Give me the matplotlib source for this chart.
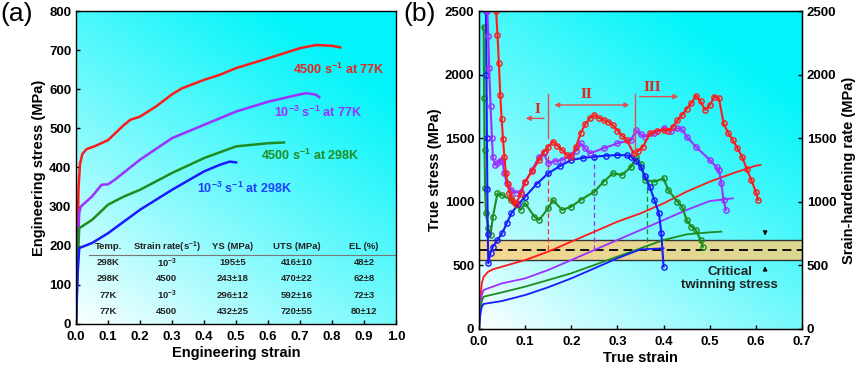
import numpy as np
import matplotlib
matplotlib.use('Agg')
import matplotlib.pyplot as plt

plt.rcParams['font.family'] = ['Liberation Sans', 'DejaVu Sans']
plt.rcParams['font.weight'] = 'bold'
plt.rcParams['mathtext.fontset'] = 'custom'
plt.rcParams['mathtext.rm'] = 'Liberation Sans:bold'
plt.rcParams['mathtext.bf'] = 'Liberation Sans:bold'
plt.rcParams['mathtext.default'] = 'bf'

# ---------- (a) engineering stress-strain ----------
eng_red_x = [0, 0.004, 0.008, 0.0125, 0.02, 0.033, 0.06, 0.1, 0.15, 0.17, 0.2, 0.25, 0.3, 0.33, 0.4, 0.45, 0.5, 0.6, 0.7, 0.75, 0.8, 0.825]
eng_red_y = [0, 200, 350, 410, 435, 447, 455, 470, 509, 522, 530, 556, 587, 602, 624, 637, 654, 679, 705, 713, 711, 707]
eng_pur_x = [0, 0.005, 0.01, 0.015, 0.05, 0.08, 0.1, 0.12, 0.2, 0.3, 0.4, 0.5, 0.6, 0.7, 0.72, 0.75, 0.76]
eng_pur_y = [0, 180, 285, 300, 326, 356, 357, 368, 420, 475, 509, 543, 568, 587, 590, 586, 580]
eng_grn_x = [0, 0.005, 0.01, 0.05, 0.1, 0.15, 0.2, 0.3, 0.4, 0.5, 0.6, 0.65]
eng_grn_y = [0, 160, 245, 266, 305, 326, 343, 386, 424, 454, 462, 464]
eng_blu_x = [0, 0.005, 0.01, 0.05, 0.1, 0.2, 0.3, 0.4, 0.45, 0.48, 0.5]
eng_blu_y = [0, 130, 194, 207, 232, 292, 343, 390, 407, 415, 413]

table_header = ['Temp.', 'Strain rate(s$^{-1}$)', 'YS (MPa)', 'UTS (MPa)', 'EL (%)']
table_rows = [
    ['298K', '10$^{-3}$', '195\u00b15', '416\u00b110', '48\u00b12'],
    ['298K', '4500', '243\u00b118', '470\u00b122', '62\u00b18'],
    ['77K', '10$^{-3}$', '296\u00b112', '592\u00b116', '72\u00b13'],
    ['77K', '4500', '432\u00b125', '720\u00b155', '80\u00b112'],
]

# ---------- (b) true stress and strain-hardening rate ----------
ts_red_x = [0, 0.003, 0.006, 0.01, 0.02, 0.03, 0.05, 0.1, 0.15, 0.2, 0.25, 0.3, 0.35, 0.4, 0.45, 0.5, 0.55, 0.6, 0.61]
ts_red_y = [0, 250, 360, 411, 451, 469, 490, 542, 608, 687, 765, 844, 909, 988, 1080, 1158, 1224, 1284, 1289]
ts_pur_x = [0, 0.003, 0.006, 0.01, 0.05, 0.1, 0.15, 0.2, 0.25, 0.3, 0.35, 0.4, 0.45, 0.5, 0.55]
ts_pur_y = [0, 180, 270, 307, 359, 398, 464, 542, 621, 700, 778, 857, 936, 1006, 1027]
ts_grn_x = [0, 0.003, 0.006, 0.01, 0.05, 0.1, 0.15, 0.2, 0.25, 0.3, 0.35, 0.4, 0.45, 0.5, 0.525]
ts_grn_y = [0, 150, 220, 254, 288, 333, 385, 438, 503, 569, 634, 700, 744, 760, 765]
ts_blu_x = [0, 0.003, 0.006, 0.01, 0.05, 0.1, 0.15, 0.2, 0.25, 0.3, 0.35, 0.4]
ts_blu_y = [0, 120, 175, 197, 220, 267, 328, 398, 477, 556, 626, 634]

hr_red_x = [0.037, 0.04, 0.043, 0.046, 0.049, 0.052, 0.055, 0.058, 0.062, 0.066, 0.07, 0.075, 0.08, 0.09, 0.1, 0.115, 0.13, 0.14, 0.15, 0.16, 0.17, 0.18, 0.19, 0.2, 0.21, 0.22, 0.23, 0.24, 0.25, 0.26, 0.27, 0.28, 0.29, 0.3, 0.31, 0.32, 0.335, 0.345, 0.355, 0.37, 0.385, 0.4, 0.41, 0.42, 0.43, 0.44, 0.45, 0.46, 0.47, 0.48, 0.49, 0.5, 0.51, 0.52, 0.53, 0.54, 0.55, 0.56, 0.57, 0.58, 0.59, 0.6, 0.605]
hr_red_y = [2500, 2310, 2090, 1840, 1650, 1490, 1350, 1230, 1140, 1070, 1030, 1000, 983, 1060, 1158, 1240, 1329, 1390, 1433, 1473, 1440, 1407, 1370, 1355, 1430, 1538, 1610, 1656, 1682, 1660, 1643, 1630, 1604, 1560, 1520, 1486, 1381, 1400, 1430, 1538, 1560, 1564, 1560, 1591, 1640, 1682, 1730, 1774, 1834, 1790, 1722, 1760, 1827, 1813, 1617, 1540, 1486, 1420, 1355, 1260, 1171, 1080, 1014]
hr_pur_x = [0.018, 0.02, 0.022, 0.025, 0.028, 0.03, 0.035, 0.04, 0.045, 0.05, 0.055, 0.06, 0.07, 0.08, 0.09, 0.1, 0.115, 0.13, 0.14, 0.15, 0.165, 0.18, 0.2, 0.21, 0.22, 0.23, 0.24, 0.27, 0.3, 0.33, 0.34, 0.35, 0.36, 0.38, 0.4, 0.415, 0.43, 0.44, 0.45, 0.47, 0.5, 0.515, 0.52, 0.525, 0.53, 0.535]
hr_pur_y = [2500, 2300, 2050, 1750, 1500, 1350, 1290, 1303, 1320, 1329, 1224, 1150, 1093, 1072, 1080, 1158, 1250, 1355, 1381, 1303, 1320, 1329, 1368, 1400, 1460, 1420, 1381, 1420, 1460, 1486, 1564, 1530, 1512, 1538, 1578, 1560, 1578, 1570, 1512, 1433, 1329, 1270, 1250, 1150, 1014, 936]
hr_blu_x = [0.015, 0.016, 0.017, 0.018, 0.019, 0.02, 0.025, 0.03, 0.04, 0.05, 0.06, 0.07, 0.085, 0.1, 0.125, 0.15, 0.175, 0.2, 0.225, 0.25, 0.275, 0.3, 0.32, 0.33, 0.34, 0.35, 0.36, 0.37, 0.38, 0.39, 0.395, 0.4]
hr_blu_y = [2500, 2000, 1500, 1100, 750, 516, 600, 647, 700, 752, 830, 909, 980, 1040, 1140, 1224, 1280, 1329, 1345, 1355, 1362, 1368, 1365, 1355, 1320, 1276, 1200, 1119, 1014, 909, 752, 490]
hr_grn_x = [0.01, 0.011, 0.012, 0.013, 0.015, 0.02, 0.025, 0.03, 0.04, 0.05, 0.07, 0.09, 0.1, 0.12, 0.13, 0.15, 0.16, 0.18, 0.2, 0.22, 0.25, 0.27, 0.29, 0.31, 0.33, 0.34, 0.35, 0.36, 0.38, 0.4, 0.41, 0.43, 0.44, 0.45, 0.46, 0.47, 0.48, 0.485]
hr_grn_y = [2377, 1813, 1407, 1106, 909, 791, 739, 883, 1067, 1054, 1014, 936, 988, 883, 857, 949, 1014, 936, 962, 1014, 1080, 1158, 1224, 1211, 1276, 1355, 1300, 1171, 1158, 1184, 1093, 1001, 962, 857, 805, 778, 700, 647]

# dashed onset lines (strain, top of line)
onset_x = [0.15, 0.25, 0.365]
onset_top = [1440, 1380, 1220]
onset_colors = ['#ff2a2a', '#9b30ff', '#1e8c1e']

band_low, band_mid, band_high = 540, 620, 700

c_red, c_pur, c_grn, c_blu = '#ff1a1a', '#9b30ff', '#1e8c1e', '#1a1aff'

fig = plt.figure(figsize=(8.65, 3.73), dpi=100)
ax1 = fig.add_axes([0.0879, 0.1314, 0.3699, 0.8391])
ax2 = fig.add_axes([0.5538, 0.118, 0.3734, 0.8525])


def gradient_bg(ax):
    n = 200
    gx, gy = np.meshgrid(np.linspace(0, 1, n), np.linspace(0, 1, n))
    t = np.clip((gx * 0.55 + gy * 0.75) / 1.1, 0, 1) ** 0.9
    img = np.zeros((n, n, 3))
    img[..., 0] = 1 - t
    img[..., 1] = 1 - 0.04 * t
    img[..., 2] = 1 - 0.02 * t
    ax.imshow(img, extent=[0, 1, 0, 1], transform=ax.transAxes, origin='lower',
              aspect='auto', zorder=0)


tick_fs = 9.5
for ax in (ax1, ax2):
    gradient_bg(ax)
    for s in ax.spines.values():
        s.set_linewidth(1.0)
    ax.tick_params(direction='in', labelsize=tick_fs, length=3, width=1)
    ax.tick_params(axis='x', pad=5)

# panel a
ax1.plot(eng_red_x, eng_red_y, color=c_red, lw=1.8)
ax1.plot(eng_pur_x, eng_pur_y, color=c_pur, lw=1.8)
ax1.plot(eng_grn_x, eng_grn_y, color=c_grn, lw=1.8)
ax1.plot(eng_blu_x, eng_blu_y, color=c_blu, lw=1.8)
ax1.set_xlim(0, 1.0)
ax1.set_ylim(0, 800)
ax1.set_xticks(np.arange(0, 1.01, 0.1))
ax1.set_xticklabels(['%.1f' % v for v in np.arange(0, 1.01, 0.1)])
ax1.set_yticks(np.arange(0, 801, 100))
ax1.set_xlabel('Engineering strain', fontsize=10.5, fontweight='bold', labelpad=2)
ax1.set_ylabel('Engineering stress (MPa)', fontsize=10.5, fontweight='bold', labelpad=2)

lab_fs = 9
ax1.text(0.679, 652, '4500 s$^{-1}$ at 77K', color='#e8231f', fontsize=lab_fs, va='center')
ax1.text(0.619, 540, '10$^{-3}$ s$^{-1}$ at 77K', color='#9b30ff', fontsize=lab_fs, va='center')
ax1.text(0.578, 431, '4500 s$^{-1}$ at 298K', color='#228b22', fontsize=lab_fs, va='center')
ax1.text(0.377, 347, '10$^{-3}$ s$^{-1}$ at 298K', color='#1f3fff', fontsize=lab_fs, va='center')

col_x = [0.10, 0.283, 0.49, 0.69, 0.90]
tab_fs = 6.8
for cx, h in zip(col_x, table_header):
    ax1.text(cx, 197, h, fontsize=tab_fs, ha='center', va='center', color='#222222')
ax1.plot([0.04, 1.0], [177, 177], color='#777777', lw=0.8)
for ry, row in zip([156, 115, 74, 33], table_rows):
    for cx, v in zip(col_x, row):
        ax1.text(cx, ry, v, fontsize=tab_fs, ha='center', va='center', color='#222222')

# panel b
ax2.axhspan(band_low, band_high, color='#ffcf78', alpha=0.8, lw=0, zorder=1)
ax2.axhline(band_low, color='#333333', lw=1.0, zorder=2)
ax2.axhline(band_high, color='#333333', lw=1.0, zorder=2)
ax2.axhline(band_mid, color='black', lw=1.3, ls=(0, (5, 3)), zorder=2)

for xo, top, c in zip(onset_x, onset_top, onset_colors):
    ax2.plot([xo, xo], [band_mid, top], color=c, lw=0.9, ls=(0, (4, 2.5)), zorder=3)

ax2.plot(ts_red_x, ts_red_y, color=c_red, lw=1.3, zorder=4)
ax2.plot(ts_pur_x, ts_pur_y, color=c_pur, lw=1.3, zorder=4)
ax2.plot(ts_grn_x, ts_grn_y, color=c_grn, lw=1.3, zorder=4)
ax2.plot(ts_blu_x, ts_blu_y, color=c_blu, lw=1.3, zorder=4)

mk = dict(marker='o', markersize=3.8, markerfacecolor='none', markeredgewidth=1.0, lw=1.5, zorder=5)
ax2.plot(hr_grn_x, hr_grn_y, color=c_grn, **mk)
ax2.plot(hr_blu_x, hr_blu_y, color=c_blu, **mk)
ax2.plot(hr_pur_x, hr_pur_y, color=c_pur, **mk)
ax2.plot(hr_red_x, hr_red_y, color=c_red, **mk)

ax2.set_xlim(0, 0.7)
ax2.set_ylim(0, 2500)
ax2.set_xticks(np.arange(0, 0.71, 0.1))
ax2.set_xticklabels(['%.1f' % v for v in np.arange(0, 0.71, 0.1)])
ax2.set_yticks(np.arange(0, 2501, 500))
ax2.set_xlabel('True strain', fontsize=10.5, fontweight='bold', labelpad=2)
ax2.set_ylabel('True stress (MPa)', fontsize=10.5, fontweight='bold', labelpad=2)
ax2r = ax2.twinx()
ax2r.set_ylim(0, 2500)
ax2r.set_yticks(np.arange(0, 2501, 500))
ax2r.tick_params(direction='in', labelsize=tick_fs, length=3, width=1)
ax2r.set_ylabel('Srain-hardening rate (MPa)', fontsize=10.5, fontweight='bold', labelpad=4)

# stage markers
rc = '#e05050'
ax2.plot([0.15, 0.15], [1500, 1848], color=rc, lw=1.0, zorder=6)
ax2.plot([0.337, 0.337], [1355, 1848], color=rc, lw=1.0, zorder=6)
ax2.annotate('', xy=(0.095, 1656), xytext=(0.147, 1656),
             arrowprops=dict(arrowstyle='-|>', color=rc, lw=1.0, mutation_scale=7), zorder=6)
ax2.annotate('', xy=(0.157, 1761), xytext=(0.332, 1761),
             arrowprops=dict(arrowstyle='<|-|>', color=rc, lw=1.0, mutation_scale=7), zorder=6)
ax2.annotate('', xy=(0.438, 1827), xytext=(0.342, 1827),
             arrowprops=dict(arrowstyle='-|>', color=rc, lw=1.0, mutation_scale=7), zorder=6)
sf = dict(family=['Liberation Serif', 'DejaVu Serif'], fontweight='bold', fontsize=11,
          color='#e8231f', ha='center', va='center', zorder=7)
ax2.text(0.126, 1725, 'I', **sf)
ax2.text(0.233, 1845, 'II', **sf)
ax2.text(0.376, 1900, 'III', **sf)

ax2.annotate('', xy=(0.62, 712), xytext=(0.62, 785),
             arrowprops=dict(arrowstyle='-|>', color='black', lw=0.9, mutation_scale=6), zorder=6)
ax2.annotate('', xy=(0.62, 515), xytext=(0.62, 440),
             arrowprops=dict(arrowstyle='-|>', color='black', lw=0.9, mutation_scale=6), zorder=6)
ax2.text(0.543, 398, 'Critical\ntwinning stress', fontsize=9.5, ha='center', va='center',
         color='#222222', linespacing=1.15, zorder=7)

fig.text(0.0, 0.995, '(a)', fontsize=19, fontweight='normal', va='top', ha='left')
fig.text(0.466, 0.995, '(b)', fontsize=19, fontweight='normal', va='top', ha='left')

fig.savefig('out.png', dpi=100)
